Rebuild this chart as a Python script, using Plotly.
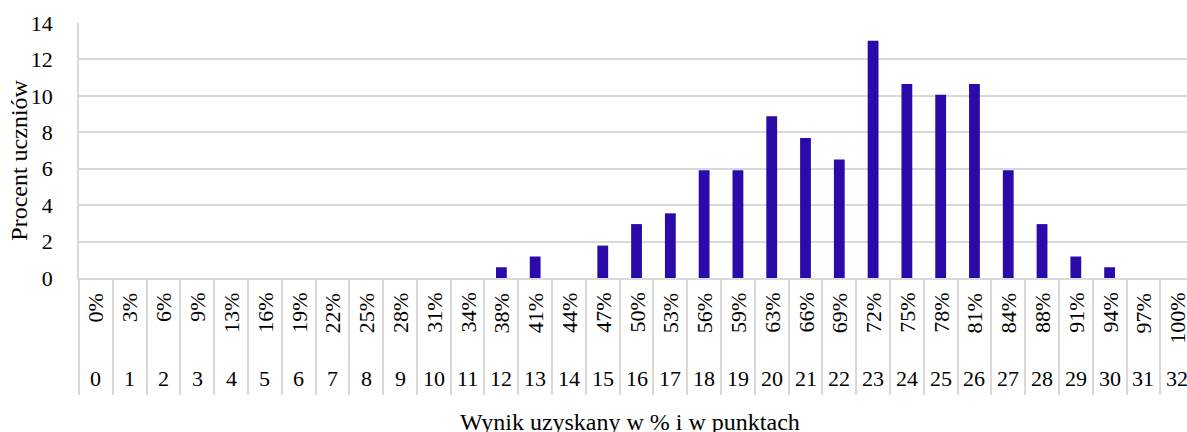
import plotly.graph_objects as go

points = [str(i) for i in range(33)]
percent_labels = ["0%", "3%", "6%", "9%", "13%", "16%", "19%", "22%", "25%", "28%",
                  "31%", "34%", "38%", "41%", "44%", "47%", "50%", "53%", "56%", "59%",
                  "63%", "66%", "69%", "72%", "75%", "78%", "81%", "84%", "88%", "91%",
                  "94%", "97%", "100%"]
students_pct = [0, 0, 0, 0, 0, 0, 0, 0, 0, 0,
                0, 0, 0.59, 1.18, 0, 1.78, 2.96, 3.55, 5.92, 5.92,
                8.88, 7.69, 6.51, 13.02, 10.65, 10.06, 10.65, 5.92, 2.96, 1.18,
                0.59, 0, 0]

FONT = "Liberation Serif, Times New Roman, DejaVu Serif, serif"
GRID = "#d9d9d9"
TICK_SIZE = 22
TITLE_SIZE = 24

fig = go.Figure()
fig.add_trace(go.Bar(
    x=points, y=students_pct, width=0.32,
    marker=dict(color="#2A0AA8", line=dict(width=0)),
    hoverinfo="x+y",
))

annotations = []
for p, lab in zip(points, percent_labels):
    annotations.append(dict(x=p, y=0, xref="x", yref="paper", text=lab,
                            textangle=-90, showarrow=False, yanchor="top",
                            xanchor="center", yshift=-13,
                            font=dict(family=FONT, size=TICK_SIZE, color="black")))
    annotations.append(dict(x=p, y=0, xref="x", yref="paper", text=p,
                            showarrow=False, yanchor="middle", xanchor="center",
                            yshift=-100,
                            font=dict(family=FONT, size=TICK_SIZE, color="black")))
annotations.append(dict(x="16", y=0, xref="x", yref="paper",
                        text="Wynik uzyskany w % i w punktach", showarrow=False,
                        yanchor="middle", xanchor="center", yshift=-144, xshift=-7,
                        font=dict(family=FONT, size=TITLE_SIZE, color="black")))
annotations.append(dict(x=0, y=0.46, xref="paper", yref="paper",
                        text="Procent uczniów", showarrow=False, textangle=-90,
                        xanchor="center", yanchor="middle", xshift=-60,
                        font=dict(family=FONT, size=TITLE_SIZE, color="black")))

fig.update_layout(
    width=1187, height=432,
    margin=dict(l=79, r=0, t=23, b=154, autoexpand=False),
    paper_bgcolor="white", plot_bgcolor="white",
    showlegend=False,
    font=dict(family=FONT, size=TICK_SIZE, color="black"),
    annotations=annotations,
)
fig.update_xaxes(
    type="category", categoryorder="array", categoryarray=points,
    range=[-0.5, 32.29], showgrid=False,
    showline=True, linecolor=GRID, linewidth=1.5,
    ticks="outside", tickson="boundaries", ticklen=115,
    tickcolor=GRID, tickwidth=1.5, showticklabels=False,
    automargin=False, fixedrange=True,
)
fig.update_yaxes(
    range=[0, 14], dtick=2, tick0=0,
    showgrid=True, gridcolor=GRID, gridwidth=1.5,
    showline=True, linecolor=GRID, linewidth=1.5,
    zeroline=False, ticks="", ticklabelstandoff=20,
    tickfont=dict(family=FONT, size=TICK_SIZE, color="black"),
    automargin=False, fixedrange=True,
)

fig.write_html("out.html", config={"displayModeBar": False},
               post_script="document.body.style.margin='0px';")
